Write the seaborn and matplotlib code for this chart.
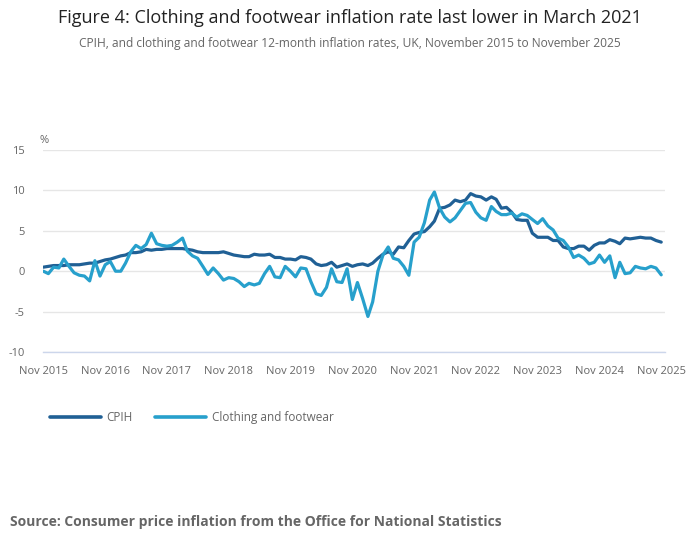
import pandas as pd
import matplotlib
matplotlib.use("Agg")
import matplotlib.pyplot as plt
import seaborn as sns

# monthly 12-month rates, Nov 2015 to Nov 2025
months = pd.date_range("2015-11-01", periods=121, freq="MS")

cpih = [0.5, 0.6, 0.7, 0.7, 0.7, 0.8, 0.8, 0.8, 0.9, 1.0, 1.0, 1.2,
        1.4, 1.5, 1.7, 1.9, 2.0, 2.3, 2.3, 2.4, 2.7, 2.6, 2.7, 2.7,
        2.8, 2.8, 2.8, 2.8, 2.7, 2.6, 2.4, 2.3, 2.3, 2.3, 2.3, 2.4,
        2.2, 2.0, 1.9, 1.8, 1.8, 2.1, 2.0, 2.0, 2.1, 1.7, 1.7, 1.5,
        1.5, 1.4, 1.8, 1.7, 1.5, 0.9, 0.7, 0.8, 1.1, 0.5, 0.7, 0.9,
        0.6, 0.8, 0.9, 0.7, 1.0, 1.6, 2.1, 2.4, 2.1, 3.0, 2.9, 3.8,
        4.6, 4.8, 4.9, 5.5, 6.2, 7.8, 7.9, 8.2, 8.8, 8.6, 8.8, 9.6,
        9.3, 9.2, 8.8, 9.2, 8.9, 7.8, 7.9, 7.3, 6.4, 6.3, 6.3, 4.7,
        4.2, 4.2, 4.2, 3.8, 3.8, 3.0, 2.8, 2.8, 3.1, 3.1, 2.6, 3.2,
        3.5, 3.5, 3.9, 3.7, 3.4, 4.1, 4.0, 4.1, 4.2, 4.1, 4.1, 3.8,
        3.6]

clothing = [0.0, -0.3, 0.5, 0.4, 1.5, 0.6, -0.2, -0.5, -0.6, -1.2, 1.3, -0.6,
            0.8, 1.2, 0.0, 0.0, 1.0, 2.4, 3.2, 2.8, 3.3, 4.7, 3.4, 3.2,
            3.1, 3.2, 3.6, 4.1, 2.5, 1.9, 1.6, 0.6, -0.4, 0.4, -0.3, -1.1,
            -0.8, -0.9, -1.3, -1.9, -1.5, -1.7, -1.5, -0.3, 0.6, -0.7, -0.8, 0.6,
            0.0, -0.7, 0.4, 0.3, -1.3, -2.8, -3.0, -2.0, 0.3, -1.3, -1.4, 0.3,
            -3.5, -1.4, -3.4, -5.6, -3.8, 0.0, 2.0, 3.0, 1.6, 1.4, 0.6, -0.5,
            3.6, 4.2, 6.0, 8.8, 9.8, 7.8, 6.7, 6.1, 6.6, 7.5, 8.4, 8.5,
            7.3, 6.6, 6.3, 8.0, 7.4, 7.0, 7.0, 7.2, 6.7, 7.1, 6.9, 6.4,
            5.9, 6.5, 5.6, 5.1, 4.1, 3.8, 3.0, 1.7, 2.0, 1.6, 0.9, 1.1,
            2.0, 1.1, 1.9, -0.8, 1.1, -0.3, -0.2, 0.6, 0.4, 0.3, 0.6, 0.4,
            -0.45]

series_names = ["CPIH", "Clothing and footwear"]
colours = ["#206095", "#27a0cc"]
tick_years = list(range(2015, 2026))

df = pd.DataFrame({"Month": months, "CPIH": cpih, "Clothing and footwear": clothing})
long_df = df.melt(id_vars="Month", var_name="Series", value_name="Rate")

sns.set_style("white")
plt.rcParams["font.family"] = ["Open Sans", "DejaVu Sans"]
plt.rcParams["axes.unicode_minus"] = False

fig = plt.figure(figsize=(7, 5.49), dpi=100)
ax = fig.add_axes([0.0614, 0.3588, 0.889, 0.368])

sns.lineplot(data=long_df, x="Month", y="Rate", hue="Series", hue_order=series_names,
             palette=colours, linewidth=2.3, ax=ax, legend=False)

ax.set_ylim(-10, 15)
ax.set_yticks([-10, -5, 0, 5, 10, 15])
ax.set_xlim(months[0] - pd.Timedelta(days=2), months[-1] + pd.Timedelta(days=24))
ticks = [pd.Timestamp(f"{y}-11-01") for y in tick_years]
ax.set_xticks(ticks)
ax.set_xticklabels([f"Nov {y}" for y in tick_years])
ax.set_xlabel("")
ax.set_ylabel("")

ax.grid(axis="y", color="#e6e6e6", linewidth=1)
ax.grid(axis="x", visible=False)
for side in ["top", "right", "left"]:
    ax.spines[side].set_visible(False)
ax.spines["bottom"].set_color("#ccd6eb")
ax.spines["bottom"].set_linewidth(1)
ax.tick_params(axis="x", colors="#ccd6eb", length=7, width=1, labelcolor="#666666",
               labelsize=8, pad=3)
ax.tick_params(axis="y", length=0, labelcolor="#666666", labelsize=8, pad=13)

ax.text(-0.005, 1.02, "%", transform=ax.transAxes, fontsize=8, color="#666666",
        ha="left", va="bottom")

fig.text(0.5, 0.967, "Figure 4: Clothing and footwear inflation rate last lower in March 2021",
         ha="center", va="center", fontsize=13.0, color="#222222")
fig.text(0.5, 0.921, "CPIH, and clothing and footwear 12-month inflation rates, UK, November 2015 to November 2025",
         ha="center", va="center", fontsize=8.65, color="#666666")

handles = [plt.Line2D([], [], color=c, linewidth=2.6) for c in colours]
fig.legend(handles, series_names, loc="center left", bbox_to_anchor=(0.063, 0.24),
           ncol=2, frameon=False, fontsize=8.5, handlelength=4.3, handletextpad=0.5,
           columnspacing=1.9, labelcolor="#666666", borderpad=0)

fig.text(0.014, 0.05, "Source: Consumer price inflation from the Office for National Statistics",
         ha="left", va="center", fontsize=10, fontweight="bold", color="#666666")

fig.savefig("out.png", dpi=100)
